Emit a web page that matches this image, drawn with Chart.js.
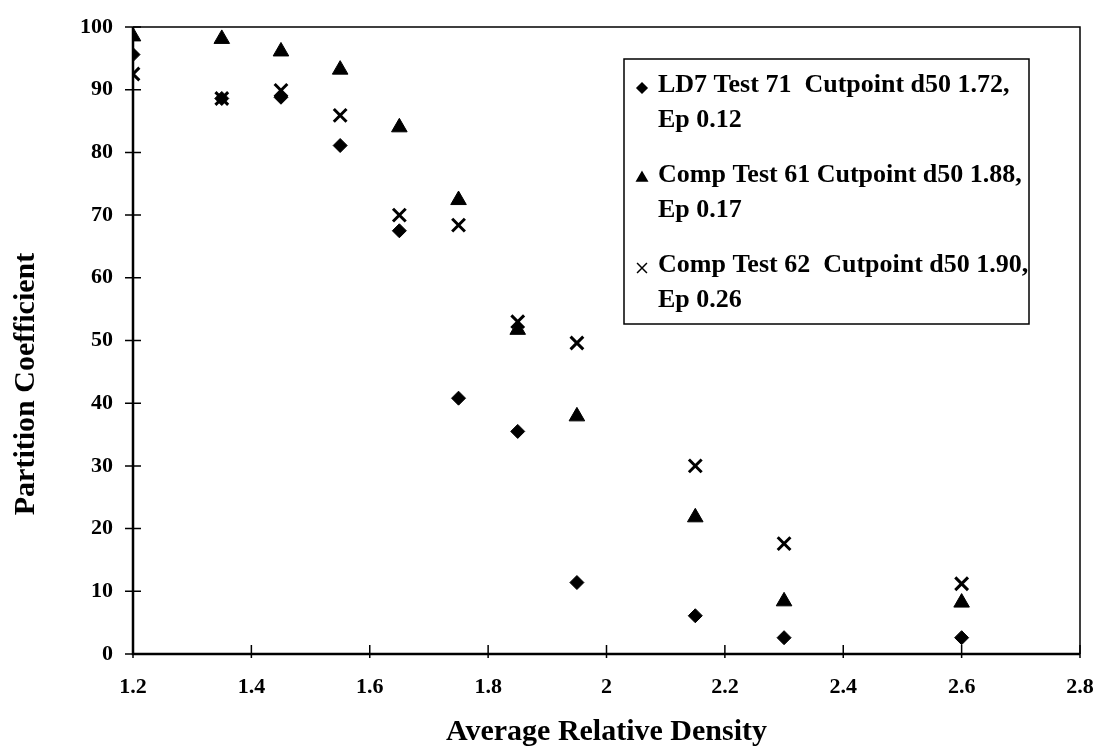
<!DOCTYPE html>
<html>
<head>
<meta charset="utf-8">
<script src="https://cdn.jsdelivr.net/npm/chart.js@4.4.1/dist/chart.umd.min.js"></script>
<style>
  html, body { margin: 0; padding: 0; background: #fff; }
  #wrap { position: relative; width: 1104px; height: 747px; }
</style>
</head>
<body>
<div id="wrap"><canvas id="partitionChart" width="1104" height="747"></canvas></div>
<script>
// Partition curves
const density = [1.2, 1.35, 1.45, 1.55, 1.65, 1.75, 1.85, 1.95, 2.15, 2.3, 2.6];
const ld7Test71 = [95.6, 88.6, 88.8, 81.1, 67.5, 40.8, 35.5, 11.4, 6.1, 2.6, 2.6];
const compTest61 = [98.5, 98.1, 96.1, 93.2, 84.0, 72.4, 51.7, 37.9, 21.8, 8.4, 8.2];
const compTest62 = [92.5, 88.6, 89.9, 85.9, 70.0, 68.4, 53.0, 49.6, 30.0, 17.6, 11.2];

const seriesLabels = [
    ['LD7 Test 71  Cutpoint d50 1.72,', 'Ep 0.12'],
    ['Comp Test 61 Cutpoint d50 1.88,', 'Ep 0.17'],
    ['Comp Test 62  Cutpoint d50 1.90,', 'Ep 0.26']
];
const xTickValues = [1.2, 1.4, 1.6, 1.8, 2.0, 2.2, 2.4, 2.6, 2.8];
const yTickValues = [0, 10, 20, 30, 40, 50, 60, 70, 80, 90, 100];
const xTitle = 'Average Relative Density';
const yTitle = 'Partition Coefficient';

const FONT = '"Liberation Serif", "Times New Roman", serif';

function toPoints(values) {
    return density.map((d, i) => ({ x: d, y: values[i] }));
}

// frame, cross ticks, y title and the boxed legend
const framePlugin = {
    id: 'frame',
    afterDraw(chart) {
        const ctx = chart.ctx;
        const a = chart.chartArea;
        const xs = chart.scales.x;
        const ys = chart.scales.y;
        ctx.save();
        ctx.strokeStyle = '#000';

        // top + right border of plot area
        ctx.lineWidth = 1.5;
        ctx.beginPath();
        ctx.moveTo(a.left, a.top);
        ctx.lineTo(a.right, a.top);
        ctx.lineTo(a.right, a.bottom);
        ctx.stroke();

        // axis lines
        ctx.lineWidth = 2.5;
        ctx.beginPath();
        ctx.moveTo(a.left, a.top);
        ctx.lineTo(a.left, a.bottom);
        ctx.lineTo(a.right, a.bottom);
        ctx.stroke();

        // tick marks crossing the axes
        ctx.lineWidth = 1.5;
        ctx.beginPath();
        yTickValues.forEach(v => {
            const py = ys.getPixelForValue(v);
            ctx.moveTo(a.left - 8, py);
            ctx.lineTo(a.left + 8, py);
        });
        xTickValues.forEach(v => {
            const px = xs.getPixelForValue(v);
            ctx.moveTo(px, a.bottom - 9);
            ctx.lineTo(px, a.bottom + 4);
        });
        ctx.stroke();

        // y axis title
        ctx.fillStyle = '#000';
        ctx.font = 'bold 30px ' + FONT;
        ctx.textAlign = 'center';
        ctx.textBaseline = 'middle';
        ctx.translate(26, 384);
        ctx.rotate(-Math.PI / 2);
        ctx.fillText(yTitle, 0, 0);
        ctx.restore();

        // legend box
        ctx.save();
        ctx.strokeStyle = '#000';
        ctx.lineWidth = 1.5;
        ctx.strokeRect(624, 59, 405, 265);
        ctx.fillStyle = '#000';
        ctx.font = 'bold 26px ' + FONT;
        ctx.textAlign = 'left';
        ctx.textBaseline = 'alphabetic';
        chart.data.datasets.forEach((ds, i) => {
            const base = 92 + i * 90;
            const lines = seriesLabels[i];
            Chart.helpers.drawPoint(ctx, {
                pointStyle: ds.pointStyle,
                radius: ds.legendRadius,
                rotation: 0,
                borderWidth: ds.pointStyle === 'crossRot' ? 2 : 1
            }, 642, base - 4);
            ctx.fillText(lines[0], 658, base);
            ctx.fillText(lines[1], 658, base + 35);
        });
        ctx.restore();
    }
};

const ctx = document.getElementById('partitionChart').getContext('2d');
new Chart(ctx, {
    type: 'scatter',
    data: {
        datasets: [{
            label: seriesLabels[0].join(' '),
            data: toPoints(ld7Test71),
            pointStyle: 'rectRot',
            pointRadius: 7,
            legendRadius: 5,
            backgroundColor: '#000',
            borderColor: '#000',
            borderWidth: 1
        }, {
            label: seriesLabels[1].join(' '),
            data: toPoints(compTest61),
            pointStyle: 'triangle',
            pointRadius: 9,
            legendRadius: 6,
            backgroundColor: '#000',
            borderColor: '#000',
            borderWidth: 1
        }, {
            label: seriesLabels[2].join(' '),
            data: toPoints(compTest62),
            pointStyle: 'crossRot',
            pointRadius: 9,
            legendRadius: 7,
            backgroundColor: '#000',
            borderColor: '#000',
            borderWidth: 3
        }]
    },
    options: {
        responsive: false,
        animation: false,
        layout: { padding: { top: 27, right: 24, bottom: 0, left: 0 } },
        plugins: {
            legend: { display: false },
            tooltip: { enabled: false }
        },
        scales: {
            x: {
                type: 'linear',
                min: 1.2,
                max: 2.8,
                afterBuildTicks: scale => { scale.ticks = xTickValues.map(v => ({ value: v })); },
                afterFit: scale => {
                    scale.height = 93;
                    scale.paddingLeft = 0;
                    scale.paddingRight = 0;
                },
                grid: { display: false, drawTicks: false },
                border: { display: false },
                ticks: {
                    padding: 20,
                    color: '#000',
                    font: { family: FONT, size: 22, weight: 'bold' },
                    callback: v => String(Number(v.toFixed(1)))
                },
                title: {
                    display: true,
                    text: xTitle,
                    color: '#000',
                    font: { family: FONT, size: 30, weight: 'bold', lineHeight: 1 },
                    padding: { top: 0, bottom: 0 }
                }
            },
            y: {
                min: 0,
                max: 100,
                afterBuildTicks: scale => { scale.ticks = yTickValues.map(v => ({ value: v })); },
                afterFit: scale => {
                    scale.width = 133;
                    scale.paddingTop = 0;
                    scale.paddingBottom = 0;
                },
                grid: { display: false, drawTicks: false },
                border: { display: false },
                ticks: {
                    padding: 20,
                    color: '#000',
                    font: { family: FONT, size: 22, weight: 'bold' }
                }
            }
        }
    },
    plugins: [framePlugin]
});
</script>
</body>
</html>
